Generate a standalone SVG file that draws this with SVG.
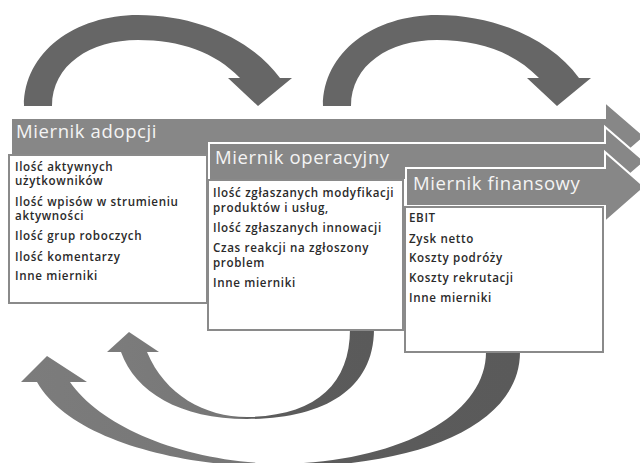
<svg xmlns="http://www.w3.org/2000/svg" width="640" height="463" viewBox="0 0 640 463">
<style>
.bar{fill:#878787;stroke:#ffffff;stroke-width:2;stroke-linejoin:miter}
.box{fill:#ffffff;stroke:#8a8a8a;stroke-width:2}
.hd{font-family:"Open Sans","Liberation Sans",sans-serif;font-size:18.5px;letter-spacing:0.6px;fill:#f4f4f4}
.tx{font-family:"Open Sans","Liberation Sans",sans-serif;font-size:11.6px;font-weight:600;letter-spacing:0.65px;fill:#2a2a2a}
.arc{fill:#666666}
</style>
<defs>
<linearGradient id="g1" x1="0" y1="0" x2="1" y2="0">
<stop offset="0" stop-color="#7c7c7c"/>
<stop offset="0.46" stop-color="#767676"/>
<stop offset="0.54" stop-color="#5c5c5c"/>
<stop offset="1" stop-color="#5a5a5a"/>
</linearGradient>
</defs>
<g id="connectors">
<path class="arc" d="M24,106 C24,52 75,15 138,15 C198,15 252,40 280,78 L292,78 L258,106 L228,78 L240,78 C215,52 180,40 138,40 C90,40 52,65 52,106 Z"/>
<path class="arc" transform="translate(299,0)" d="M24,106 C24,52 75,15 138,15 C198,15 252,40 280,78 L292,78 L258,106 L228,78 L240,78 C215,52 180,40 138,40 C90,40 52,65 52,106 Z"/>
<path fill="url(#g1)" d="M374,329 C374,392 320,419 247,419 C180,419 135,392 121,352 L107,352 L129,332 L159,352 L147,352 C165,395 205,417 247,417 C315,416 350,385 350,329 Z"/>
<path fill="url(#g1)" d="M520,352 C520,425 420,467 280,467 C180,467 70,440 37,382 L21,382 L47,356 L87,382 L70,382 C102,428 185,462 280,464 C400,462 486,415 486,352 Z"/>
</g>
<g id="n1">
<path class="bar" d="M11,118 H605 V102 L645,136.5 L605,171 V155 H11 Z"/>
<text class="hd" x="16" y="138">Miernik adopcji</text>
<rect class="box" x="9" y="155" width="198" height="148"/>
<text class="tx" x="15" y="171">Ilość aktywnych</text>
<text class="tx" x="15" y="185">użytkowników</text>
<text class="tx" x="15" y="206">Ilość wpisów w strumieniu</text>
<text class="tx" x="15" y="220">aktywności</text>
<text class="tx" x="15" y="240">Ilość grup roboczych</text>
<text class="tx" x="15" y="261">Ilość komentarzy</text>
<text class="tx" x="15" y="280">Inne mierniki</text>
</g>
<g id="n2">
<path class="bar" d="M209,143 H605 V127 L645,161.5 L605,196 V180 H209 Z"/>
<text class="hd" x="215" y="164">Miernik operacyjny</text>
<rect class="box" x="208" y="180" width="195" height="150"/>
<text class="tx" x="213" y="197">Ilość zgłaszanych modyfikacji</text>
<text class="tx" x="213" y="212">produktów i usług,</text>
<text class="tx" x="213" y="232">Ilość zgłaszanych innowacji</text>
<text class="tx" x="213" y="252">Czas reakcji na zgłoszony</text>
<text class="tx" x="213" y="267">problem</text>
<text class="tx" x="213" y="287">Inne mierniki</text>
</g>
<g id="n3">
<path class="bar" d="M406,168 H605 V152 L645,187 L605,222 V206 H406 Z"/>
<text class="hd" x="413" y="190">Miernik finansowy</text>
<rect class="box" x="405" y="207" width="198" height="145"/>
<text class="tx" x="409" y="222">EBIT</text>
<text class="tx" x="409" y="243">Zysk netto</text>
<text class="tx" x="409" y="262">Koszty podróży</text>
<text class="tx" x="409" y="282">Koszty rekrutacji</text>
<text class="tx" x="409" y="302">Inne mierniki</text>
</g>
</svg>
